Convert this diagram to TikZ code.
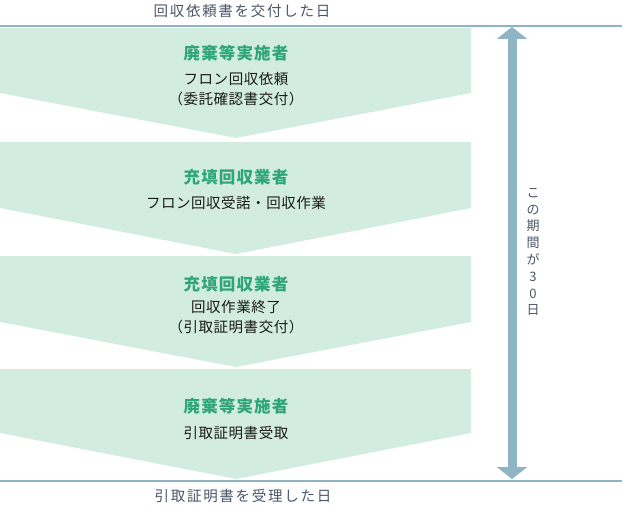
\documentclass[tikz,border=0pt]{standalone}
\usepackage{fontspec}
\setmainfont{Noto Sans CJK JP}
\usetikzlibrary{arrows.meta}
\definecolor{fillc}{HTML}{D3ECE2}
\definecolor{titlec}{HTML}{2EA57A}
\definecolor{bodyc}{HTML}{1A1A1A}
\definecolor{labelc}{HTML}{4A5566}
\definecolor{linec}{HTML}{8FB4C3}
\tikzset{
  chev/.style={fill=fillc},
  ttl/.style={font=\fontsize{16.5}{18}\selectfont\bfseries\addfontfeature{LetterSpace=7}, text=titlec, inner sep=0pt},
  bdy/.style={font=\fontsize{14.5}{20}\selectfont\addfontfeature{LetterSpace=3.5}, text=bodyc, align=center, inner sep=0pt},
  lbl/.style={font=\fontsize{14.5}{18}\selectfont\addfontfeature{LetterSpace=12}, text=labelc, inner sep=0pt},
  vlbl/.style={font=\fontsize{13}{16.8}\selectfont, text=labelc, align=center, inner sep=0pt},
  hline/.style={draw=linec, line width=2pt},
  period/.style={draw=linec, line width=9pt, {Triangle[width=30pt,length=12pt]}-{Triangle[width=30pt,length=12pt]}}
}
\newcommand\mychev[3]{\fill[chev] (0,#1) -- (471,#1) -- (471,#2) -- (236,#3) -- (0,#2) -- cycle;}
\begin{document}
\begin{tikzpicture}[x=1pt,y=-1pt]
\useasboundingbox (0,0) rectangle (622,519);
\mychev{28}{93}{138}
\mychev{142}{208}{254}
\mychev{256}{322}{367}
\mychev{369}{433}{479}
\coordinate (tl) at (0,26);
\coordinate (tr) at (622,26);
\coordinate (bl) at (0,481);
\coordinate (br) at (622,481);
\draw[hline] (tl) -- (tr);
\draw[hline] (bl) -- (br);
\coordinate (atop) at (512,27);
\coordinate (abot) at (512,479);
\draw[period] (atop) -- (abot);
\node[lbl] (top) at (242,11) {回収依頼書を交付した日};
\node[lbl] (bot) at (243,496) {引取証明書を受理した日};
\node[vlbl] (per) at (533,252) {こ\\の\\期\\間\\が\\3\\0\\日};
\node[ttl] (t1) at (236,53) {廃棄等実施者};
\node[bdy] (b1) at (236,89) {フロン回収依頼\\（委託確認書交付）};
\node[ttl] (t2) at (236,177) {充填回収業者};
\node[bdy] (b2) at (236,203) {フロン回収受諾・回収作業};
\node[ttl] (t3) at (236,284) {充填回収業者};
\node[bdy] (b3) at (236,317.5) {回収作業終了\\（引取証明書交付）};
\node[ttl] (t4) at (236,406) {廃棄等実施者};
\node[bdy] (b4) at (236,433) {引取証明書受取};
\end{tikzpicture}
\end{document}
